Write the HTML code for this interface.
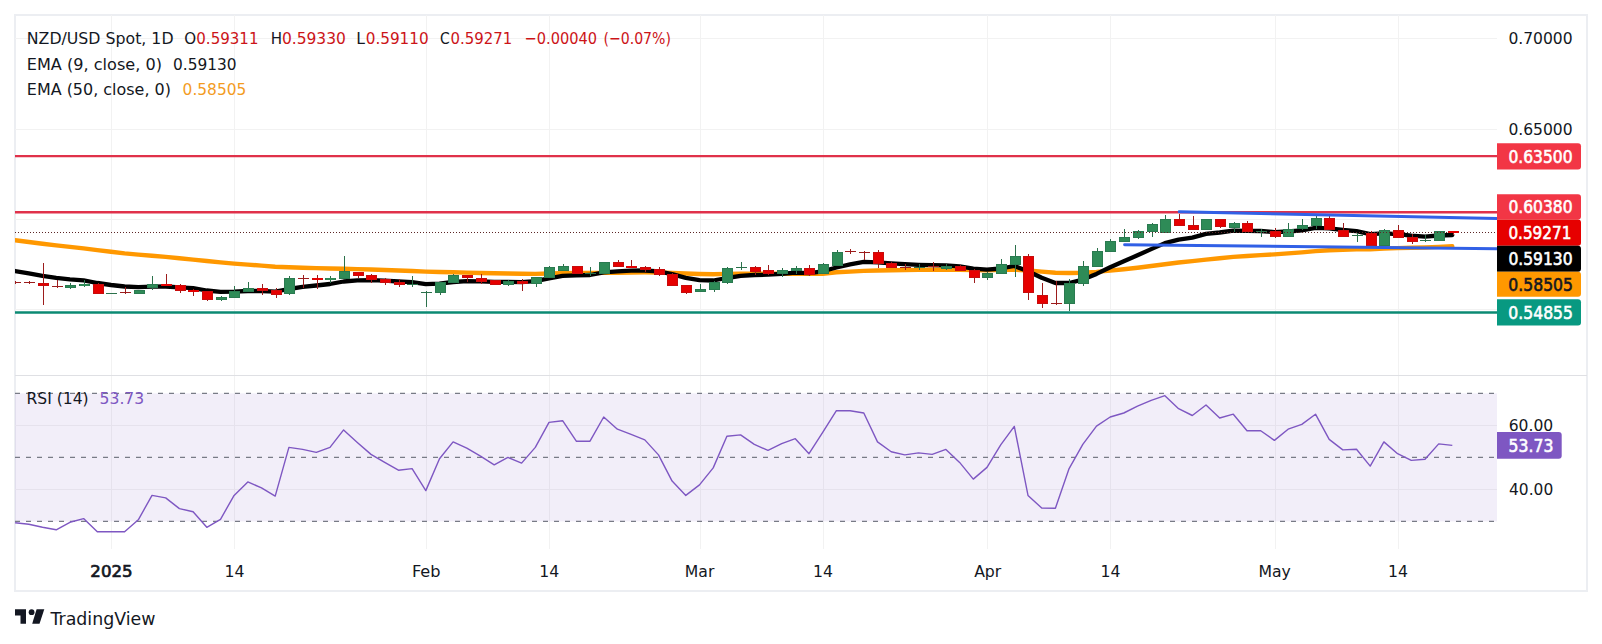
<!DOCTYPE html><html><head><meta charset="utf-8"><style>html,body{margin:0;padding:0;background:#fff;}svg{display:block}</style></head><body>
<svg width="1602" height="644" viewBox="0 0 1602 644" font-family='"DejaVu Sans", "Liberation Sans", sans-serif'>
<rect x="0" y="0" width="1602" height="644" fill="#ffffff"/>
<defs><clipPath id="mp"><rect x="15" y="15" width="1482" height="360"/></clipPath><clipPath id="rp"><rect x="15" y="376" width="1482" height="173"/></clipPath></defs>
<rect x="15" y="15" width="1572" height="576" fill="none" stroke="#eceef2" stroke-width="2"/>
<line x1="111.5" y1="15" x2="111.5" y2="549" stroke="#f2f2f2" stroke-width="1"/>
<line x1="234.5" y1="15" x2="234.5" y2="549" stroke="#f2f2f2" stroke-width="1"/>
<line x1="426.5" y1="15" x2="426.5" y2="549" stroke="#f2f2f2" stroke-width="1"/>
<line x1="549.5" y1="15" x2="549.5" y2="549" stroke="#f2f2f2" stroke-width="1"/>
<line x1="700.5" y1="15" x2="700.5" y2="549" stroke="#f2f2f2" stroke-width="1"/>
<line x1="823.5" y1="15" x2="823.5" y2="549" stroke="#f2f2f2" stroke-width="1"/>
<line x1="987.5" y1="15" x2="987.5" y2="549" stroke="#f2f2f2" stroke-width="1"/>
<line x1="1110.5" y1="15" x2="1110.5" y2="549" stroke="#f2f2f2" stroke-width="1"/>
<line x1="1275.5" y1="15" x2="1275.5" y2="549" stroke="#f2f2f2" stroke-width="1"/>
<line x1="1398.5" y1="15" x2="1398.5" y2="549" stroke="#f2f2f2" stroke-width="1"/>
<line x1="15" y1="38.5" x2="1497" y2="38.5" stroke="#f2f2f2" stroke-width="1"/>
<line x1="15" y1="129.5" x2="1497" y2="129.5" stroke="#f2f2f2" stroke-width="1"/>
<line x1="15" y1="219.5" x2="1497" y2="219.5" stroke="#f2f2f2" stroke-width="1"/>
<line x1="15" y1="309.5" x2="1497" y2="309.5" stroke="#f2f2f2" stroke-width="1"/>
<line x1="15" y1="425.5" x2="1497" y2="425.5" stroke="#f2f2f2" stroke-width="1"/>
<line x1="15" y1="489.5" x2="1497" y2="489.5" stroke="#f2f2f2" stroke-width="1"/>
<rect x="15" y="393.4" width="1482" height="128.0" fill="#7e57c2" fill-opacity="0.1"/>
<line x1="15" y1="393.4" x2="1497" y2="393.4" stroke="#787b86" stroke-width="1.2" stroke-dasharray="5 6"/>
<line x1="15" y1="457.4" x2="1497" y2="457.4" stroke="#787b86" stroke-width="1.2" stroke-dasharray="5 6"/>
<line x1="15" y1="521.4" x2="1497" y2="521.4" stroke="#787b86" stroke-width="1.2" stroke-dasharray="5 6"/>
<polyline clip-path="url(#rp)" points="15.1,522.8 28.8,524.3 42.5,527.3 56.2,529.8 69.9,522.3 83.6,518.6 97.3,531.8 111.0,531.8 124.6,531.8 138.3,519.8 152.0,495.4 165.7,497.9 179.4,508.6 193.1,511.8 206.8,527.3 220.5,519.3 234.1,495.4 247.8,481.9 261.5,487.9 275.2,496.1 288.9,447.4 302.6,449.4 316.3,452.4 330.0,447.4 343.6,429.9 357.3,442.4 371.0,454.4 384.7,462.4 398.4,470.2 412.1,468.6 425.8,490.6 439.5,458.7 453.1,441.9 466.8,448.2 480.5,456.2 494.2,464.9 507.9,457.4 521.6,463.1 535.3,447.4 549.0,422.4 562.6,420.7 576.3,441.2 590.0,441.2 603.7,417.0 617.4,429.2 631.1,434.4 644.8,439.9 658.5,454.9 672.1,481.1 685.8,495.4 699.5,484.9 713.2,467.9 726.9,436.2 740.6,434.9 754.3,444.4 768.0,450.4 781.7,443.7 795.3,438.7 809.0,453.7 822.7,432.4 836.4,410.7 850.1,410.7 863.8,413.0 877.5,441.9 891.2,451.7 904.8,454.9 918.5,452.9 932.2,454.4 945.9,449.4 959.6,462.4 973.3,479.1 987.0,467.4 1000.7,444.9 1014.3,426.4 1028.0,495.4 1041.7,508.1 1055.4,508.3 1069.1,468.6 1082.8,444.4 1096.5,426.2 1110.2,417.0 1123.8,413.0 1137.5,406.2 1151.2,400.3 1164.9,395.7 1178.6,408.7 1192.3,415.5 1206.0,405.0 1219.7,418.0 1233.3,414.2 1247.0,430.7 1260.7,430.7 1274.4,440.4 1288.1,429.2 1301.8,424.4 1315.5,414.2 1329.2,439.4 1342.8,449.9 1356.5,449.2 1370.2,466.1 1383.9,441.9 1397.6,453.7 1411.3,460.4 1425.0,459.2 1438.7,443.9 1452.3,445.4" fill="none" stroke="#7e57c2" stroke-width="1.4" stroke-linejoin="round"/>
<g clip-path="url(#mp)">
<polyline points="15.1,240.3 28.8,242.0 42.5,243.7 56.2,245.4 69.9,246.9 83.6,248.4 97.3,250.1 111.0,251.8 124.6,253.4 138.3,254.6 152.0,255.7 165.7,256.9 179.4,258.3 193.1,259.6 206.8,261.0 220.5,262.4 234.1,263.6 247.8,264.6 261.5,265.6 275.2,266.7 288.9,267.2 302.6,267.7 316.3,268.1 330.0,268.5 343.6,268.8 357.3,269.1 371.0,269.5 384.7,270.0 398.4,270.5 412.1,271.0 425.8,271.6 439.5,272.0 453.1,272.3 466.8,272.6 480.5,273.0 494.2,273.3 507.9,273.5 521.6,273.8 535.3,273.9 549.0,273.5 562.6,273.1 576.3,272.9 590.0,273.0 603.7,272.9 617.4,272.9 631.1,272.6 644.8,272.4 658.5,272.5 672.1,272.9 685.8,273.5 699.5,274.0 713.2,274.2 726.9,273.9 740.6,273.6 754.3,273.6 768.0,273.7 781.7,273.8 795.3,273.8 809.0,273.9 822.7,273.8 836.4,272.3 850.1,271.6 863.8,270.9 877.5,270.5 891.2,270.3 904.8,270.1 918.5,269.9 932.2,269.8 945.9,269.7 959.6,269.8 973.3,270.1 987.0,270.2 1000.7,269.9 1014.3,269.6 1028.0,270.5 1041.7,271.6 1055.4,272.7 1069.1,273.0 1082.8,272.8 1096.5,271.9 1110.2,270.6 1123.8,269.2 1137.5,267.7 1151.2,266.0 1164.9,264.2 1178.6,262.5 1192.3,261.1 1206.0,259.6 1219.7,258.2 1233.3,256.9 1247.0,256.0 1260.7,255.1 1274.4,254.4 1288.1,253.4 1301.8,252.4 1315.5,251.1 1329.2,250.3 1342.8,249.8 1356.5,249.3 1370.2,249.2 1383.9,248.5 1397.6,248.1 1411.3,247.8 1425.0,247.5 1438.7,246.9 1452.3,246.3" fill="none" stroke="#ff9800" stroke-width="4.4" stroke-linejoin="round" stroke-linecap="round"/>
<polyline points="15.1,271.0 28.8,273.3 42.5,275.8 56.2,277.9 69.9,279.4 83.6,280.3 97.3,283.0 111.0,285.0 124.6,286.5 138.3,287.2 152.0,286.6 165.7,286.5 179.4,287.3 193.1,288.2 206.8,290.5 220.5,291.8 234.1,291.7 247.8,291.0 261.5,291.0 275.2,291.7 288.9,289.0 302.6,286.9 316.3,285.5 330.0,284.0 343.6,281.5 357.3,280.3 371.0,280.2 384.7,280.7 398.4,281.5 412.1,282.1 425.8,284.1 439.5,283.7 453.1,282.0 466.8,281.1 480.5,281.3 494.2,281.9 507.9,281.8 521.6,282.1 535.3,281.2 549.0,278.3 562.6,275.9 576.3,275.4 590.0,275.0 603.7,272.4 617.4,271.3 631.1,270.6 644.8,270.5 658.5,271.3 672.1,274.2 685.8,277.9 699.5,280.1 713.2,280.5 726.9,278.0 740.6,275.9 754.3,275.0 768.0,274.7 781.7,273.8 795.3,272.6 809.0,273.1 822.7,271.3 836.4,267.5 850.1,264.3 863.8,261.9 877.5,262.3 891.2,263.4 904.8,264.2 918.5,264.8 932.2,265.1 945.9,265.3 959.6,266.4 973.3,268.7 987.0,269.6 1000.7,268.5 1014.3,266.0 1028.0,271.3 1041.7,277.8 1055.4,283.0 1069.1,283.0 1082.8,279.6 1096.5,273.9 1110.2,267.3 1123.8,261.3 1137.5,255.3 1151.2,249.1 1164.9,243.1 1178.6,239.6 1192.3,237.6 1206.0,233.9 1219.7,232.5 1233.3,230.6 1247.0,230.9 1260.7,231.0 1274.4,232.1 1288.1,231.5 1301.8,230.3 1315.5,227.8 1329.2,228.3 1342.8,230.0 1356.5,231.1 1370.2,234.1 1383.9,233.3 1397.6,234.2 1411.3,235.7 1425.0,236.6 1438.7,235.5 1452.3,235.0" fill="none" stroke="#000000" stroke-width="4.3" stroke-linejoin="round" stroke-linecap="round"/>
<rect x="70" y="283" width="1" height="6" fill="#2b714b"/>
<rect x="65" y="285" width="11" height="3" fill="#2a7a50"/>
<rect x="66" y="286" width="9" height="1" fill="#2e8b57"/>
<rect x="84" y="280" width="1" height="7" fill="#2b714b"/>
<rect x="79" y="284" width="11" height="2" fill="#2a7a50"/>
<rect x="80" y="284" width="9" height="2" fill="#2e8b57"/>
<rect x="111" y="293" width="1" height="1" fill="#2b714b"/>
<rect x="106" y="293" width="11" height="1" fill="#2b714b"/>
<rect x="139" y="290" width="1" height="4" fill="#2b714b"/>
<rect x="134" y="290" width="11" height="4" fill="#2a7a50"/>
<rect x="135" y="291" width="9" height="2" fill="#2e8b57"/>
<rect x="152" y="276" width="1" height="14" fill="#2b714b"/>
<rect x="147" y="284" width="11" height="4" fill="#2a7a50"/>
<rect x="148" y="285" width="9" height="2" fill="#2e8b57"/>
<rect x="221" y="296" width="1" height="5" fill="#2b714b"/>
<rect x="216" y="297" width="11" height="3" fill="#2a7a50"/>
<rect x="217" y="298" width="9" height="1" fill="#2e8b57"/>
<rect x="234" y="286" width="1" height="12" fill="#2b714b"/>
<rect x="229" y="291" width="11" height="7" fill="#2a7a50"/>
<rect x="230" y="292" width="9" height="5" fill="#2e8b57"/>
<rect x="248" y="282" width="1" height="10" fill="#2b714b"/>
<rect x="243" y="288" width="11" height="4" fill="#2a7a50"/>
<rect x="244" y="289" width="9" height="2" fill="#2e8b57"/>
<rect x="289" y="276" width="1" height="19" fill="#2b714b"/>
<rect x="284" y="278" width="11" height="16" fill="#2a7a50"/>
<rect x="285" y="279" width="9" height="14" fill="#2e8b57"/>
<rect x="330" y="276" width="1" height="7" fill="#2b714b"/>
<rect x="325" y="278" width="11" height="2" fill="#2a7a50"/>
<rect x="326" y="278" width="9" height="2" fill="#2e8b57"/>
<rect x="344" y="256" width="1" height="23" fill="#2b714b"/>
<rect x="339" y="271" width="11" height="8" fill="#2a7a50"/>
<rect x="340" y="272" width="9" height="6" fill="#2e8b57"/>
<rect x="412" y="276" width="1" height="11" fill="#2b714b"/>
<rect x="407" y="284" width="11" height="1" fill="#2b714b"/>
<rect x="426" y="291" width="1" height="16" fill="#2b714b"/>
<rect x="421" y="292" width="11" height="1" fill="#2b714b"/>
<rect x="440" y="282" width="1" height="13" fill="#2b714b"/>
<rect x="435" y="282" width="11" height="11" fill="#2a7a50"/>
<rect x="436" y="283" width="9" height="9" fill="#2e8b57"/>
<rect x="453" y="274" width="1" height="9" fill="#2b714b"/>
<rect x="448" y="275" width="11" height="8" fill="#2a7a50"/>
<rect x="449" y="276" width="9" height="6" fill="#2e8b57"/>
<rect x="508" y="280" width="1" height="6" fill="#2b714b"/>
<rect x="503" y="281" width="11" height="4" fill="#2a7a50"/>
<rect x="504" y="282" width="9" height="2" fill="#2e8b57"/>
<rect x="536" y="277" width="1" height="10" fill="#2b714b"/>
<rect x="531" y="277" width="11" height="7" fill="#2a7a50"/>
<rect x="532" y="278" width="9" height="5" fill="#2e8b57"/>
<rect x="549" y="266" width="1" height="12" fill="#2b714b"/>
<rect x="544" y="267" width="11" height="11" fill="#2a7a50"/>
<rect x="545" y="268" width="9" height="9" fill="#2e8b57"/>
<rect x="563" y="264" width="1" height="7" fill="#2b714b"/>
<rect x="558" y="266" width="11" height="5" fill="#2a7a50"/>
<rect x="559" y="267" width="9" height="3" fill="#2e8b57"/>
<rect x="590" y="267" width="1" height="9" fill="#2b714b"/>
<rect x="585" y="273" width="11" height="1" fill="#2b714b"/>
<rect x="604" y="262" width="1" height="12" fill="#2b714b"/>
<rect x="599" y="262" width="11" height="12" fill="#2a7a50"/>
<rect x="600" y="263" width="9" height="10" fill="#2e8b57"/>
<rect x="700" y="284" width="1" height="8" fill="#2b714b"/>
<rect x="695" y="289" width="11" height="3" fill="#2a7a50"/>
<rect x="696" y="290" width="9" height="1" fill="#2e8b57"/>
<rect x="714" y="281" width="1" height="11" fill="#2b714b"/>
<rect x="709" y="282" width="11" height="8" fill="#2a7a50"/>
<rect x="710" y="283" width="9" height="6" fill="#2e8b57"/>
<rect x="727" y="267" width="1" height="17" fill="#2b714b"/>
<rect x="722" y="268" width="11" height="15" fill="#2a7a50"/>
<rect x="723" y="269" width="9" height="13" fill="#2e8b57"/>
<rect x="741" y="262" width="1" height="8" fill="#2b714b"/>
<rect x="736" y="267" width="11" height="1" fill="#2b714b"/>
<rect x="782" y="268" width="1" height="9" fill="#2b714b"/>
<rect x="777" y="270" width="11" height="4" fill="#2a7a50"/>
<rect x="778" y="271" width="9" height="2" fill="#2e8b57"/>
<rect x="796" y="266" width="1" height="8" fill="#2b714b"/>
<rect x="791" y="268" width="11" height="3" fill="#2a7a50"/>
<rect x="792" y="269" width="9" height="1" fill="#2e8b57"/>
<rect x="823" y="263" width="1" height="11" fill="#2b714b"/>
<rect x="818" y="264" width="11" height="10" fill="#2a7a50"/>
<rect x="819" y="265" width="9" height="8" fill="#2e8b57"/>
<rect x="837" y="250" width="1" height="16" fill="#2b714b"/>
<rect x="832" y="252" width="11" height="14" fill="#2a7a50"/>
<rect x="833" y="253" width="9" height="12" fill="#2e8b57"/>
<rect x="919" y="264" width="1" height="6" fill="#2b714b"/>
<rect x="914" y="267" width="11" height="1" fill="#2b714b"/>
<rect x="946" y="264" width="1" height="6" fill="#2b714b"/>
<rect x="941" y="266" width="11" height="3" fill="#2a7a50"/>
<rect x="942" y="267" width="9" height="1" fill="#2e8b57"/>
<rect x="987" y="272" width="1" height="8" fill="#2b714b"/>
<rect x="982" y="273" width="11" height="5" fill="#2a7a50"/>
<rect x="983" y="274" width="9" height="3" fill="#2e8b57"/>
<rect x="1001" y="259" width="1" height="15" fill="#2b714b"/>
<rect x="996" y="264" width="11" height="10" fill="#2a7a50"/>
<rect x="997" y="265" width="9" height="8" fill="#2e8b57"/>
<rect x="1015" y="245" width="1" height="32" fill="#2b714b"/>
<rect x="1010" y="256" width="11" height="9" fill="#2a7a50"/>
<rect x="1011" y="257" width="9" height="7" fill="#2e8b57"/>
<rect x="1069" y="279" width="1" height="32" fill="#2b714b"/>
<rect x="1064" y="283" width="11" height="21" fill="#2a7a50"/>
<rect x="1065" y="284" width="9" height="19" fill="#2e8b57"/>
<rect x="1083" y="261" width="1" height="25" fill="#2b714b"/>
<rect x="1078" y="266" width="11" height="18" fill="#2a7a50"/>
<rect x="1079" y="267" width="9" height="16" fill="#2e8b57"/>
<rect x="1097" y="248" width="1" height="19" fill="#2b714b"/>
<rect x="1092" y="251" width="11" height="16" fill="#2a7a50"/>
<rect x="1093" y="252" width="9" height="14" fill="#2e8b57"/>
<rect x="1110" y="239" width="1" height="13" fill="#2b714b"/>
<rect x="1105" y="241" width="11" height="11" fill="#2a7a50"/>
<rect x="1106" y="242" width="9" height="9" fill="#2e8b57"/>
<rect x="1124" y="229" width="1" height="13" fill="#2b714b"/>
<rect x="1119" y="237" width="11" height="5" fill="#2a7a50"/>
<rect x="1120" y="238" width="9" height="3" fill="#2e8b57"/>
<rect x="1138" y="230" width="1" height="9" fill="#2b714b"/>
<rect x="1133" y="231" width="11" height="7" fill="#2a7a50"/>
<rect x="1134" y="232" width="9" height="5" fill="#2e8b57"/>
<rect x="1152" y="223" width="1" height="14" fill="#2b714b"/>
<rect x="1147" y="224" width="11" height="8" fill="#2a7a50"/>
<rect x="1148" y="225" width="9" height="6" fill="#2e8b57"/>
<rect x="1165" y="215" width="1" height="18" fill="#2b714b"/>
<rect x="1160" y="219" width="11" height="14" fill="#2a7a50"/>
<rect x="1161" y="220" width="9" height="12" fill="#2e8b57"/>
<rect x="1206" y="219" width="1" height="11" fill="#2b714b"/>
<rect x="1201" y="219" width="11" height="11" fill="#2a7a50"/>
<rect x="1202" y="220" width="9" height="9" fill="#2e8b57"/>
<rect x="1234" y="222" width="1" height="10" fill="#2b714b"/>
<rect x="1229" y="223" width="11" height="5" fill="#2a7a50"/>
<rect x="1230" y="224" width="9" height="3" fill="#2e8b57"/>
<rect x="1261" y="229" width="1" height="8" fill="#2b714b"/>
<rect x="1256" y="231" width="11" height="1" fill="#2b714b"/>
<rect x="1288" y="223" width="1" height="14" fill="#2b714b"/>
<rect x="1283" y="229" width="11" height="8" fill="#2a7a50"/>
<rect x="1284" y="230" width="9" height="6" fill="#2e8b57"/>
<rect x="1302" y="219" width="1" height="11" fill="#2b714b"/>
<rect x="1297" y="225" width="11" height="4" fill="#2a7a50"/>
<rect x="1298" y="226" width="9" height="2" fill="#2e8b57"/>
<rect x="1316" y="216" width="1" height="13" fill="#2b714b"/>
<rect x="1311" y="218" width="11" height="8" fill="#2a7a50"/>
<rect x="1312" y="219" width="9" height="6" fill="#2e8b57"/>
<rect x="1357" y="233" width="1" height="9" fill="#2b714b"/>
<rect x="1352" y="235" width="11" height="1" fill="#2b714b"/>
<rect x="1384" y="229" width="1" height="17" fill="#2b714b"/>
<rect x="1379" y="230" width="11" height="16" fill="#2a7a50"/>
<rect x="1380" y="231" width="9" height="14" fill="#2e8b57"/>
<rect x="1425" y="235" width="1" height="7" fill="#2b714b"/>
<rect x="1420" y="240" width="11" height="1" fill="#2b714b"/>
<rect x="1439" y="231" width="1" height="10" fill="#2b714b"/>
<rect x="1434" y="231" width="11" height="10" fill="#2a7a50"/>
<rect x="1435" y="232" width="9" height="8" fill="#2e8b57"/>
<line x1="15" y1="232.5" x2="1497" y2="232.5" stroke="#5b2626" stroke-width="1" stroke-dasharray="1 2"/>
<rect x="15" y="281" width="1" height="3" fill="#9c1c1c"/>
<rect x="10" y="282" width="11" height="1" fill="#9c1c1c"/>
<rect x="29" y="281" width="1" height="3" fill="#9c1c1c"/>
<rect x="24" y="282" width="11" height="1" fill="#9c1c1c"/>
<rect x="43" y="263" width="1" height="42" fill="#9c1c1c"/>
<rect x="38" y="283" width="11" height="3" fill="#c80c0c"/>
<rect x="39" y="284" width="9" height="1" fill="#e60000"/>
<rect x="57" y="280" width="1" height="8" fill="#9c1c1c"/>
<rect x="52" y="286" width="11" height="1" fill="#9c1c1c"/>
<rect x="98" y="283" width="1" height="11" fill="#9c1c1c"/>
<rect x="93" y="284" width="11" height="10" fill="#c80c0c"/>
<rect x="94" y="285" width="9" height="8" fill="#e60000"/>
<rect x="125" y="287" width="1" height="7" fill="#9c1c1c"/>
<rect x="120" y="292" width="11" height="1" fill="#9c1c1c"/>
<rect x="166" y="274" width="1" height="12" fill="#9c1c1c"/>
<rect x="161" y="284" width="11" height="2" fill="#c80c0c"/>
<rect x="162" y="284" width="9" height="2" fill="#e60000"/>
<rect x="180" y="284" width="1" height="9" fill="#9c1c1c"/>
<rect x="175" y="285" width="11" height="6" fill="#c80c0c"/>
<rect x="176" y="286" width="9" height="4" fill="#e60000"/>
<rect x="193" y="289" width="1" height="7" fill="#9c1c1c"/>
<rect x="188" y="290" width="11" height="2" fill="#c80c0c"/>
<rect x="189" y="290" width="9" height="2" fill="#e60000"/>
<rect x="207" y="291" width="1" height="10" fill="#9c1c1c"/>
<rect x="202" y="291" width="11" height="9" fill="#c80c0c"/>
<rect x="203" y="292" width="9" height="7" fill="#e60000"/>
<rect x="262" y="284" width="1" height="11" fill="#9c1c1c"/>
<rect x="257" y="288" width="11" height="3" fill="#c80c0c"/>
<rect x="258" y="289" width="9" height="1" fill="#e60000"/>
<rect x="276" y="288" width="1" height="10" fill="#9c1c1c"/>
<rect x="271" y="290" width="11" height="5" fill="#c80c0c"/>
<rect x="272" y="291" width="9" height="3" fill="#e60000"/>
<rect x="303" y="275" width="1" height="13" fill="#9c1c1c"/>
<rect x="298" y="278" width="11" height="1" fill="#9c1c1c"/>
<rect x="317" y="275" width="1" height="14" fill="#9c1c1c"/>
<rect x="312" y="278" width="11" height="2" fill="#c80c0c"/>
<rect x="313" y="278" width="9" height="2" fill="#e60000"/>
<rect x="358" y="272" width="1" height="6" fill="#9c1c1c"/>
<rect x="353" y="272" width="11" height="4" fill="#c80c0c"/>
<rect x="354" y="273" width="9" height="2" fill="#e60000"/>
<rect x="371" y="274" width="1" height="9" fill="#9c1c1c"/>
<rect x="366" y="275" width="11" height="5" fill="#c80c0c"/>
<rect x="367" y="276" width="9" height="3" fill="#e60000"/>
<rect x="385" y="278" width="1" height="7" fill="#9c1c1c"/>
<rect x="380" y="279" width="11" height="4" fill="#c80c0c"/>
<rect x="381" y="280" width="9" height="2" fill="#e60000"/>
<rect x="399" y="279" width="1" height="8" fill="#9c1c1c"/>
<rect x="394" y="282" width="11" height="3" fill="#c80c0c"/>
<rect x="395" y="283" width="9" height="1" fill="#e60000"/>
<rect x="467" y="275" width="1" height="7" fill="#9c1c1c"/>
<rect x="462" y="275" width="11" height="3" fill="#c80c0c"/>
<rect x="463" y="276" width="9" height="1" fill="#e60000"/>
<rect x="481" y="274" width="1" height="10" fill="#9c1c1c"/>
<rect x="476" y="278" width="11" height="4" fill="#c80c0c"/>
<rect x="477" y="279" width="9" height="2" fill="#e60000"/>
<rect x="495" y="280" width="1" height="5" fill="#9c1c1c"/>
<rect x="490" y="280" width="11" height="5" fill="#c80c0c"/>
<rect x="491" y="281" width="9" height="3" fill="#e60000"/>
<rect x="522" y="279" width="1" height="12" fill="#9c1c1c"/>
<rect x="517" y="281" width="11" height="3" fill="#c80c0c"/>
<rect x="518" y="282" width="9" height="1" fill="#e60000"/>
<rect x="577" y="266" width="1" height="8" fill="#9c1c1c"/>
<rect x="572" y="266" width="11" height="8" fill="#c80c0c"/>
<rect x="573" y="267" width="9" height="6" fill="#e60000"/>
<rect x="618" y="260" width="1" height="7" fill="#9c1c1c"/>
<rect x="613" y="262" width="11" height="5" fill="#c80c0c"/>
<rect x="614" y="263" width="9" height="3" fill="#e60000"/>
<rect x="631" y="260" width="1" height="8" fill="#9c1c1c"/>
<rect x="626" y="266" width="11" height="2" fill="#c80c0c"/>
<rect x="627" y="266" width="9" height="2" fill="#e60000"/>
<rect x="645" y="266" width="1" height="6" fill="#9c1c1c"/>
<rect x="640" y="267" width="11" height="3" fill="#c80c0c"/>
<rect x="641" y="268" width="9" height="1" fill="#e60000"/>
<rect x="659" y="267" width="1" height="9" fill="#9c1c1c"/>
<rect x="654" y="269" width="11" height="6" fill="#c80c0c"/>
<rect x="655" y="270" width="9" height="4" fill="#e60000"/>
<rect x="672" y="273" width="1" height="13" fill="#9c1c1c"/>
<rect x="667" y="274" width="11" height="12" fill="#c80c0c"/>
<rect x="668" y="275" width="9" height="10" fill="#e60000"/>
<rect x="686" y="285" width="1" height="9" fill="#9c1c1c"/>
<rect x="681" y="285" width="11" height="8" fill="#c80c0c"/>
<rect x="682" y="286" width="9" height="6" fill="#e60000"/>
<rect x="755" y="266" width="1" height="9" fill="#9c1c1c"/>
<rect x="750" y="267" width="11" height="5" fill="#c80c0c"/>
<rect x="751" y="268" width="9" height="3" fill="#e60000"/>
<rect x="768" y="265" width="1" height="10" fill="#9c1c1c"/>
<rect x="763" y="270" width="11" height="4" fill="#c80c0c"/>
<rect x="764" y="271" width="9" height="2" fill="#e60000"/>
<rect x="809" y="265" width="1" height="11" fill="#9c1c1c"/>
<rect x="804" y="268" width="11" height="7" fill="#c80c0c"/>
<rect x="805" y="269" width="9" height="5" fill="#e60000"/>
<rect x="850" y="249" width="1" height="5" fill="#9c1c1c"/>
<rect x="845" y="251" width="11" height="1" fill="#9c1c1c"/>
<rect x="864" y="251" width="1" height="9" fill="#9c1c1c"/>
<rect x="859" y="252" width="11" height="1" fill="#9c1c1c"/>
<rect x="878" y="250" width="1" height="18" fill="#9c1c1c"/>
<rect x="873" y="252" width="11" height="12" fill="#c80c0c"/>
<rect x="874" y="253" width="9" height="10" fill="#e60000"/>
<rect x="891" y="262" width="1" height="6" fill="#9c1c1c"/>
<rect x="886" y="263" width="11" height="5" fill="#c80c0c"/>
<rect x="887" y="264" width="9" height="3" fill="#e60000"/>
<rect x="905" y="264" width="1" height="6" fill="#9c1c1c"/>
<rect x="900" y="267" width="11" height="1" fill="#9c1c1c"/>
<rect x="933" y="262" width="1" height="9" fill="#9c1c1c"/>
<rect x="928" y="266" width="11" height="1" fill="#9c1c1c"/>
<rect x="960" y="265" width="1" height="6" fill="#9c1c1c"/>
<rect x="955" y="266" width="11" height="5" fill="#c80c0c"/>
<rect x="956" y="267" width="9" height="3" fill="#e60000"/>
<rect x="974" y="269" width="1" height="14" fill="#9c1c1c"/>
<rect x="969" y="270" width="11" height="8" fill="#c80c0c"/>
<rect x="970" y="271" width="9" height="6" fill="#e60000"/>
<rect x="1028" y="254" width="1" height="46" fill="#9c1c1c"/>
<rect x="1023" y="256" width="11" height="37" fill="#c80c0c"/>
<rect x="1024" y="257" width="9" height="35" fill="#e60000"/>
<rect x="1042" y="283" width="1" height="25" fill="#9c1c1c"/>
<rect x="1037" y="295" width="11" height="9" fill="#c80c0c"/>
<rect x="1038" y="296" width="9" height="7" fill="#e60000"/>
<rect x="1056" y="281" width="1" height="24" fill="#9c1c1c"/>
<rect x="1051" y="303" width="11" height="1" fill="#9c1c1c"/>
<rect x="1179" y="214" width="1" height="12" fill="#9c1c1c"/>
<rect x="1174" y="219" width="11" height="7" fill="#c80c0c"/>
<rect x="1175" y="220" width="9" height="5" fill="#e60000"/>
<rect x="1193" y="216" width="1" height="14" fill="#9c1c1c"/>
<rect x="1188" y="225" width="11" height="5" fill="#c80c0c"/>
<rect x="1189" y="226" width="9" height="3" fill="#e60000"/>
<rect x="1220" y="219" width="1" height="9" fill="#9c1c1c"/>
<rect x="1215" y="219" width="11" height="8" fill="#c80c0c"/>
<rect x="1216" y="220" width="9" height="6" fill="#e60000"/>
<rect x="1247" y="221" width="1" height="11" fill="#9c1c1c"/>
<rect x="1242" y="223" width="11" height="9" fill="#c80c0c"/>
<rect x="1243" y="224" width="9" height="7" fill="#e60000"/>
<rect x="1275" y="228" width="1" height="10" fill="#9c1c1c"/>
<rect x="1270" y="231" width="11" height="6" fill="#c80c0c"/>
<rect x="1271" y="232" width="9" height="4" fill="#e60000"/>
<rect x="1329" y="215" width="1" height="15" fill="#9c1c1c"/>
<rect x="1324" y="218" width="11" height="12" fill="#c80c0c"/>
<rect x="1325" y="219" width="9" height="10" fill="#e60000"/>
<rect x="1343" y="223" width="1" height="14" fill="#9c1c1c"/>
<rect x="1338" y="230" width="11" height="7" fill="#c80c0c"/>
<rect x="1339" y="231" width="9" height="5" fill="#e60000"/>
<rect x="1371" y="231" width="1" height="16" fill="#9c1c1c"/>
<rect x="1366" y="233" width="11" height="13" fill="#c80c0c"/>
<rect x="1367" y="234" width="9" height="11" fill="#e60000"/>
<rect x="1398" y="225" width="1" height="13" fill="#9c1c1c"/>
<rect x="1393" y="230" width="11" height="8" fill="#c80c0c"/>
<rect x="1394" y="231" width="9" height="6" fill="#e60000"/>
<rect x="1412" y="234" width="1" height="10" fill="#9c1c1c"/>
<rect x="1407" y="237" width="11" height="5" fill="#c80c0c"/>
<rect x="1408" y="238" width="9" height="3" fill="#e60000"/>
<rect x="1453" y="231" width="1" height="4" fill="#9c1c1c"/>
<rect x="1448" y="231" width="11" height="2" fill="#c80c0c"/>
<rect x="1449" y="231" width="9" height="2" fill="#e60000"/>
<line x1="15" y1="156.1" x2="1497" y2="156.1" stroke="#e0314a" stroke-width="2.4"/>
<line x1="15" y1="212.2" x2="1497" y2="212.2" stroke="#e0314a" stroke-width="2.4"/>
<line x1="15" y1="312.4" x2="1497" y2="312.4" stroke="#0b8a73" stroke-width="2.5"/>
<line x1="1179.2" y1="211.7" x2="1500" y2="218.6" stroke="#3160e6" stroke-width="3" stroke-linecap="round"/>
<line x1="1124.6" y1="244.7" x2="1500" y2="248.8" stroke="#3160e6" stroke-width="3" stroke-linecap="round"/>
</g>
<line x1="15" y1="375.5" x2="1587" y2="375.5" stroke="#dfe0e4" stroke-width="1"/>
<text x="26.82" y="43.60" font-size="16.5" font-weight="normal" fill="#131722" textLength="146.71" lengthAdjust="spacingAndGlyphs">NZD/USD Spot, 1D</text>
<text x="184.25" y="43.60" font-size="16.5" font-weight="normal" fill="#131722" textLength="11.90" lengthAdjust="spacingAndGlyphs">O</text>
<text x="196.31" y="43.60" font-size="16.5" font-weight="normal" fill="#cc1418" textLength="62.18" lengthAdjust="spacingAndGlyphs">0.59311</text>
<text x="270.82" y="43.60" font-size="16.5" font-weight="normal" fill="#131722" textLength="11.37" lengthAdjust="spacingAndGlyphs">H</text>
<text x="281.88" y="43.60" font-size="16.5" font-weight="normal" fill="#cc1418" textLength="63.95" lengthAdjust="spacingAndGlyphs">0.59330</text>
<text x="356.16" y="43.60" font-size="16.5" font-weight="normal" fill="#131722" textLength="8.72" lengthAdjust="spacingAndGlyphs">L</text>
<text x="365.70" y="43.60" font-size="16.5" font-weight="normal" fill="#cc1418" textLength="63.02" lengthAdjust="spacingAndGlyphs">0.59110</text>
<text x="440.02" y="43.60" font-size="16.5" font-weight="normal" fill="#131722" textLength="9.74" lengthAdjust="spacingAndGlyphs">C</text>
<text x="450.52" y="43.60" font-size="16.5" font-weight="normal" fill="#cc1418" textLength="61.66" lengthAdjust="spacingAndGlyphs">0.59271</text>
<text x="524.56" y="43.60" font-size="16.5" font-weight="normal" fill="#cc1418" textLength="72.51" lengthAdjust="spacingAndGlyphs">−0.00040</text>
<text x="603.49" y="43.60" font-size="16.5" font-weight="normal" fill="#cc1418" textLength="67.42" lengthAdjust="spacingAndGlyphs">(−0.07%)</text>
<text x="26.79" y="69.50" font-size="16.5" font-weight="normal" fill="#131722" textLength="135.19" lengthAdjust="spacingAndGlyphs">EMA (9, close, 0)</text>
<text x="173.09" y="69.50" font-size="16.5" font-weight="normal" fill="#131722" textLength="63.53" lengthAdjust="spacingAndGlyphs">0.59130</text>
<text x="26.80" y="95.40" font-size="16.5" font-weight="normal" fill="#131722" textLength="144.17" lengthAdjust="spacingAndGlyphs">EMA (50, close, 0)</text>
<text x="182.58" y="95.40" font-size="16.5" font-weight="normal" fill="#f39c1f" textLength="63.76" lengthAdjust="spacingAndGlyphs">0.58505</text>
<text x="26.58" y="404.30" font-size="16.5" font-weight="normal" fill="#131722" textLength="62.06" lengthAdjust="spacingAndGlyphs">RSI (14)</text>
<text x="99.60" y="404.30" font-size="16.5" font-weight="normal" fill="#7e57c2" textLength="44.55" lengthAdjust="spacingAndGlyphs">53.73</text>
<text x="1508.38" y="44.46" font-size="16.5" font-weight="normal" fill="#131722" textLength="64.26" lengthAdjust="spacingAndGlyphs">0.70000</text>
<text x="1508.38" y="134.91" font-size="16.5" font-weight="normal" fill="#131722" textLength="64.26" lengthAdjust="spacingAndGlyphs">0.65000</text>
<path d="M1497,143.2 H1578 a3,3 0 0 1 3,3 V166.4 a3,3 0 0 1 -3,3 H1497 Z" fill="#f23645"/>
<text x="1508.38" y="162.50" font-size="17" font-weight="normal" fill="#ffffff" stroke="#ffffff" stroke-width="0.6" textLength="64.26" lengthAdjust="spacingAndGlyphs">0.63500</text>
<path d="M1497,194.2 H1578 a3,3 0 0 1 3,3 V216.5 a3,3 0 0 1 -3,3 H1497 Z" fill="#f23645"/>
<text x="1508.38" y="213.05" font-size="17" font-weight="normal" fill="#ffffff" stroke="#ffffff" stroke-width="0.6" textLength="64.26" lengthAdjust="spacingAndGlyphs">0.60380</text>
<path d="M1497,219.5 H1578 a3,3 0 0 1 3,3 V242.7 a3,3 0 0 1 -3,3 H1497 Z" fill="#e60000"/>
<text x="1508.40" y="238.80" font-size="17" font-weight="normal" fill="#ffffff" stroke="#ffffff" stroke-width="0.6" textLength="63.01" lengthAdjust="spacingAndGlyphs">0.59271</text>
<path d="M1497,245.7 H1578 a3,3 0 0 1 3,3 V268.8 a3,3 0 0 1 -3,3 H1497 Z" fill="#000000"/>
<text x="1508.38" y="264.95" font-size="17" font-weight="normal" fill="#ffffff" stroke="#ffffff" stroke-width="0.6" textLength="64.26" lengthAdjust="spacingAndGlyphs">0.59130</text>
<path d="M1497,271.8 H1578 a3,3 0 0 1 3,3 V293.8 a3,3 0 0 1 -3,3 H1497 Z" fill="#ff9800"/>
<text x="1508.37" y="290.50" font-size="17" font-weight="normal" fill="#131722" stroke="#131722" stroke-width="0.6" textLength="64.59" lengthAdjust="spacingAndGlyphs">0.58505</text>
<path d="M1497,299.3 H1578 a3,3 0 0 1 3,3 V322.4 a3,3 0 0 1 -3,3 H1497 Z" fill="#089981"/>
<text x="1508.37" y="318.55" font-size="17" font-weight="normal" fill="#ffffff" stroke="#ffffff" stroke-width="0.6" textLength="64.59" lengthAdjust="spacingAndGlyphs">0.54855</text>
<text x="1508.71" y="431.41" font-size="16.5" font-weight="normal" fill="#131722" textLength="44.52" lengthAdjust="spacingAndGlyphs">60.00</text>
<text x="1509.05" y="495.41" font-size="16.5" font-weight="normal" fill="#131722" textLength="44.18" lengthAdjust="spacingAndGlyphs">40.00</text>
<path d="M1497,432.1 H1558.7 a3,3 0 0 1 3,3 V455.7 a3,3 0 0 1 -3,3 H1497 Z" fill="#7e57c2"/>
<text x="1508.59" y="451.60" font-size="17" font-weight="normal" fill="#ffffff" stroke="#ffffff" stroke-width="0.6" textLength="44.86" lengthAdjust="spacingAndGlyphs">53.73</text>
<text x="90.38" y="576.60" font-size="16.5" font-weight="normal" fill="#131722" stroke="#131722" stroke-width="0.7" textLength="42.27" lengthAdjust="spacingAndGlyphs">2025</text>
<text x="224.55" y="576.60" font-size="16.5" font-weight="normal" fill="#131722" textLength="19.95" lengthAdjust="spacingAndGlyphs">14</text>
<text x="411.93" y="576.60" font-size="16.5" font-weight="normal" fill="#131722" textLength="28.61" lengthAdjust="spacingAndGlyphs">Feb</text>
<text x="539.37" y="576.60" font-size="16.5" font-weight="normal" fill="#131722" textLength="19.95" lengthAdjust="spacingAndGlyphs">14</text>
<text x="684.77" y="576.60" font-size="16.5" font-weight="normal" fill="#131722" textLength="29.57" lengthAdjust="spacingAndGlyphs">Mar</text>
<text x="813.12" y="576.60" font-size="16.5" font-weight="normal" fill="#131722" textLength="19.95" lengthAdjust="spacingAndGlyphs">14</text>
<text x="974.15" y="576.60" font-size="16.5" font-weight="normal" fill="#131722" textLength="27.12" lengthAdjust="spacingAndGlyphs">Apr</text>
<text x="1100.56" y="576.60" font-size="16.5" font-weight="normal" fill="#131722" textLength="19.95" lengthAdjust="spacingAndGlyphs">14</text>
<text x="1258.47" y="576.60" font-size="16.5" font-weight="normal" fill="#131722" textLength="32.41" lengthAdjust="spacingAndGlyphs">May</text>
<text x="1388.00" y="576.60" font-size="16.5" font-weight="normal" fill="#131722" textLength="19.95" lengthAdjust="spacingAndGlyphs">14</text>
<g fill="#131722"><path d="M15,609.3 H26 V623.8 H20.5 V615.4 H15 Z"/><circle cx="31.6" cy="612.2" r="2.9"/><path d="M36.6,609.3 H44.3 L39.5,623.8 H32.2 Z"/></g>
<text x="50.45" y="624.60" font-size="18.5" font-weight="normal" fill="#131722" textLength="105.06" lengthAdjust="spacingAndGlyphs">TradingView</text>
</svg></body></html>
